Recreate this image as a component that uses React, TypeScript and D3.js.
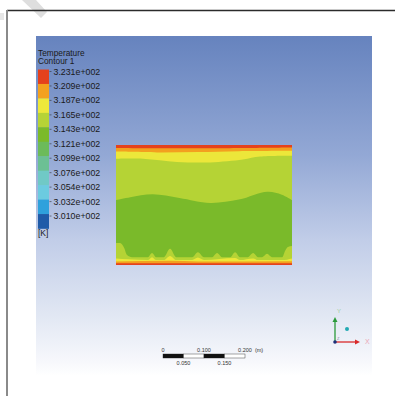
import React from "react";
import * as d3 from "d3";

// ---- Data ----
const legendLabels = [
  "3.231e+002", "3.209e+002", "3.187e+002", "3.165e+002", "3.143e+002", "3.121e+002",
  "3.099e+002", "3.076e+002", "3.054e+002", "3.032e+002", "3.010e+002",
];
const legendColors = [
  "#e5411d", "#f3a11f", "#ede83b", "#b6d336", "#7bba2a", "#6cbb5a",
  "#6cc094", "#70c9c6", "#6ccbe0", "#2fa1dc", "#1f5ba8",
];
// Domain (m)
const domainW = 0.43;
const domainH = 0.29;
// Contour boundaries [x (m), y (m)]
const greenTopBoundary: [number, number][] = [
  [0, 0.157], [0.035, 0.164], [0.09, 0.171], [0.155, 0.162], [0.23, 0.150],
  [0.30, 0.158], [0.37, 0.177], [0.405, 0.170], [0.43, 0.157],
];
const yellowTopBoundary: [number, number][] = [
  [0, 0.257], [0.066, 0.257], [0.149, 0.249], [0.23, 0.248], [0.31, 0.255],
  [0.352, 0.262], [0.43, 0.264],
];
const orangeTopBoundary: [number, number][] = [
  [0, 0.274], [0.1, 0.272], [0.2, 0.273], [0.3, 0.275], [0.43, 0.276],
];
const redTopBoundary: [number, number][] = [
  [0, 0.283], [0.2, 0.282], [0.43, 0.284],
];
const limeBottomBoundary: [number, number][] = [
  [0, 0.053], [0.010, 0.053], [0.020, 0.041], [0.027, 0.024], [0.039, 0.019],
  [0.078, 0.019], [0.088, 0.029], [0.098, 0.019], [0.117, 0.019], [0.132, 0.039],
  [0.147, 0.019], [0.186, 0.019], [0.200, 0.031], [0.215, 0.019], [0.235, 0.019],
  [0.247, 0.029], [0.259, 0.019], [0.279, 0.019], [0.291, 0.031], [0.303, 0.019],
  [0.322, 0.019], [0.335, 0.029], [0.347, 0.019], [0.357, 0.019], [0.369, 0.027],
  [0.381, 0.019], [0.406, 0.019], [0.413, 0.034], [0.420, 0.0435], [0.43, 0.046],
];
const yellowBottomBoundary: [number, number][] = [
  [0, 0.016], [0.030, 0.014], [0.078, 0.012], [0.088, 0.019], [0.098, 0.012],
  [0.117, 0.012], [0.132, 0.022], [0.147, 0.012], [0.186, 0.012], [0.200, 0.018],
  [0.215, 0.012], [0.291, 0.017], [0.303, 0.012], [0.335, 0.016], [0.347, 0.012],
  [0.406, 0.012], [0.43, 0.016],
];
const orangeBottomBoundary: [number, number][] = [
  [0, 0.0085], [0.132, 0.010], [0.2, 0.0085], [0.43, 0.009],
];
const redBottomBoundary: [number, number][] = [
  [0, 0.004], [0.2, 0.0045], [0.43, 0.004],
];
const scaleTicksTop = ["0", "0.100", "0.200"];
const scaleTicksTopVal = [0, 0.1, 0.2];
const scaleTicksBottom = ["0.050", "0.150"];
const scaleTicksBottomVal = [0.05, 0.15];

const FONT = "'Liberation Sans', Arial, sans-serif";

export default function App() {
  const x = d3.scaleLinear().domain([0, domainW]).range([116, 292]);
  const y = d3.scaleLinear().domain([0, domainH]).range([265, 145]);

  const topArea = d3
    .area<[number, number]>()
    .x((d) => x(d[0]))
    .y0(y(domainH))
    .y1((d) => y(d[1]))
    .curve(d3.curveCatmullRom);
  const bottomArea = d3
    .area<[number, number]>()
    .x((d) => x(d[0]))
    .y0(y(0))
    .y1((d) => y(d[1]))
    .curve(d3.curveMonotoneX);

  const legendY = d3.scaleBand<number>().domain(d3.range(legendColors.length)).range([69.5, 228.5]);

  const sb = d3.scaleLinear().domain([0, 0.2]).range([163, 245]);
  const segs = [0, 0.05, 0.1, 0.15];

  return (
    <svg width={395} height={396} style={{ position: "absolute", left: 0, top: 0, background: "#fff" }}>
      <defs>
        <linearGradient id="bg" x1="0" y1="0" x2="0" y2="1">
          <stop offset="0" stopColor="#6683be" />
          <stop offset="0.35" stopColor="#93a8d5" />
          <stop offset="0.6" stopColor="#c1cde8" />
          <stop offset="0.82" stopColor="#e1e7f3" />
          <stop offset="0.96" stopColor="#f7f8fc" />
          <stop offset="1" stopColor="#ffffff" />
        </linearGradient>
      </defs>
      {/* watermark */}
      <polygon points="22,0 36,0 47,12 41,18" fill="#dedede" />
      <polygon points="0,13 4,13 4,20 0,20" fill="#e6e6e6" />
      {/* frame */}
      <line x1={7} y1={10.5} x2={395} y2={10.5} stroke="#2b2b2b" strokeWidth={1.3} />
      <line x1={7} y1={10} x2={7} y2={396} stroke="#8a8a8a" strokeWidth={2} />
      {/* background */}
      <rect x={36} y={36} width={336} height={340} fill="url(#bg)" />
      {/* legend */}
      <text x={38} y={55.5} fontFamily={FONT} fontSize={8.3} fill="#1a1a1a">Temperature</text>
      <text x={38} y={64} fontFamily={FONT} fontSize={8.3} fill="#1a1a1a">Contour 1</text>
      {legendColors.map((c, i) => (
        <rect key={i} x={38} y={legendY(i)!} width={11} height={legendY.bandwidth() + 0.3} fill={c} />
      ))}
      {legendLabels.map((l, i) => (
        <g key={l}>
          <line x1={49.5} x2={51.5} y1={legendY(i)! + 2} y2={legendY(i)! + 2} stroke="#333" strokeWidth={0.6} />
          <text x={53.5} y={legendY(i)! + 5} fontFamily={FONT} fontSize={8.8} fill="#1a1a1a">{l}</text>
        </g>
      ))}
      <text x={38} y={235.5} fontFamily={FONT} fontSize={8.5} fill="#1a1a1a">[K]</text>
      {/* contour field */}
      <rect x={x(0)} y={y(domainH)} width={x(domainW) - x(0)} height={y(0) - y(domainH)} fill="#7aba2a" />
      <path d={topArea(greenTopBoundary)!} fill="#b5d335" />
      <path d={topArea(yellowTopBoundary)!} fill="#ece73a" />
      <path d={topArea(orangeTopBoundary)!} fill="#f3a01f" />
      <path d={topArea(redTopBoundary)!} fill="#e5421d" />
      <path d={bottomArea(limeBottomBoundary)!} fill="#b5d335" />
      <path d={bottomArea(yellowBottomBoundary)!} fill="#ece73a" />
      <path d={bottomArea(orangeBottomBoundary)!} fill="#f3a01f" />
      <path d={bottomArea(redBottomBoundary)!} fill="#e5421d" />
      {/* scale bar */}
      {segs.map((s, i) => (
        <rect key={s} x={sb(s)} y={354} width={sb(s + 0.05) - sb(s)} height={4}
          fill={i % 2 === 0 ? "#111" : "#fff"} stroke="#222" strokeWidth={0.4} />
      ))}
      {scaleTicksTop.map((t, i) => (
        <text key={t} x={sb(scaleTicksTopVal[i])} y={352} textAnchor="middle" fontFamily={FONT} fontSize={5.5} fill="#333">{t}</text>
      ))}
      <text x={sb(0.2) + 14} y={352} textAnchor="middle" fontFamily={FONT} fontSize={5.5} fill="#333">(m)</text>
      {scaleTicksBottom.map((t, i) => (
        <text key={t} x={sb(scaleTicksBottomVal[i])} y={365} textAnchor="middle" fontFamily={FONT} fontSize={5.5} fill="#333">{t}</text>
      ))}
      {/* axis triad */}
      <line x1={335} y1={342} x2={335} y2={321} stroke="#2a9a3a" strokeWidth={1.3} />
      <polygon points="332.5,322 337.5,322 335,317" fill="#2a9a3a" />
      <line x1={335} y1={342} x2={355} y2={342} stroke="#d82a2a" strokeWidth={1.3} />
      <polygon points="355,339.5 355,344.5 360,342" fill="#d82a2a" />
      <circle cx={335} cy={342} r={1.8} fill="#1d2f7a" />
      <circle cx={347} cy={329} r={2} fill="#22a9b3" />
      <text x={337} y={313} fontFamily={FONT} fontSize={6} fill="#9fcf9f">Y</text>
      <text x={365} y={344} fontFamily={FONT} fontSize={7} fill="#eaa6b6">X</text>
      <text x={337} y={340} fontFamily={FONT} fontSize={4} fill="#8a8aa8">Z</text>
    </svg>
  );
}
